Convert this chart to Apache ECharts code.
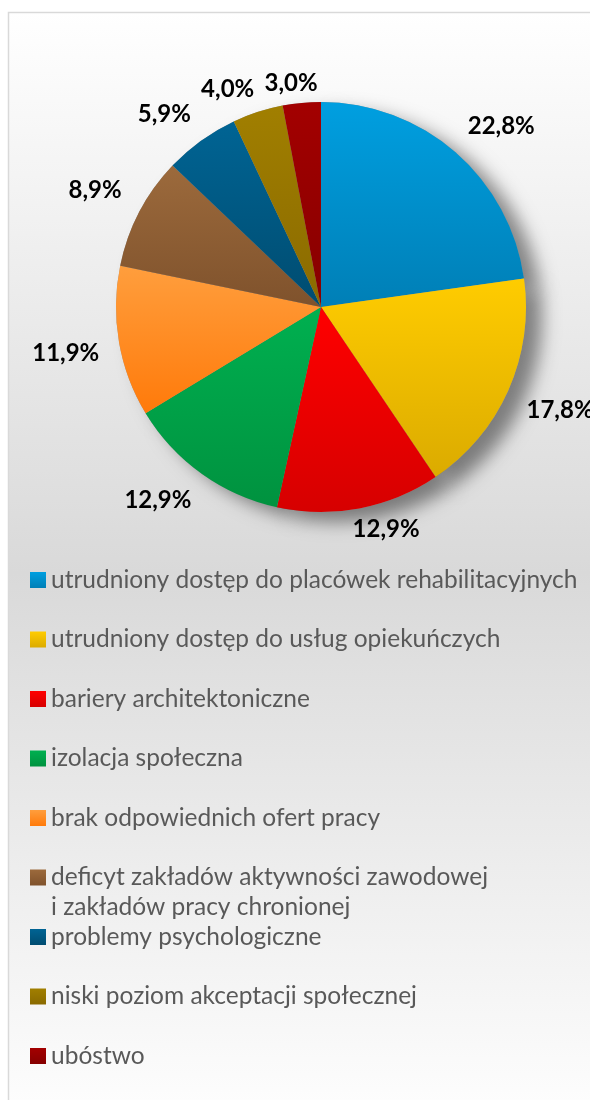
<!DOCTYPE html>
<html>
<head>
<meta charset="utf-8">
<script src="https://cdn.jsdelivr.net/npm/echarts@6/dist/echarts.min.js"></script>
<style>
  html, body { margin: 0; padding: 0; background: #ffffff; }
  #chart { width: 590px; height: 1100px; }
</style>
</head>
<body>
<div id="chart"></div>
<script>
// Barriers reported by respondents, share of answers (%)
const categories = [
  'utrudniony dostęp do placówek rehabilitacyjnych',
  'utrudniony dostęp do usług opiekuńczych',
  'bariery architektoniczne',
  'izolacja społeczna',
  'brak odpowiednich ofert pracy',
  'deficyt zakładów aktywności zawodowej\ni zakładów pracy chronionej',
  'problemy psychologiczne',
  'niski poziom akceptacji społecznej',
  'ubóstwo'
];
const shares = [22.8, 17.8, 12.9, 12.9, 11.9, 8.9, 5.9, 4.0, 3.0];

// Slice fills: lighter at the top, darker at the bottom
const paletteTop = ['#009fe0', '#ffcc00', '#ff0000', '#00b050', '#ff9e3d', '#9c6a3c', '#006494', '#a17f00', '#a30000'];
const paletteBottom = ['#007fb6', '#dbab00', '#d60000', '#00923f', '#ff7a0a', '#7f522c', '#004c70', '#8a6a00', '#860000'];

const FONT = 'Lato, "Open Sans", sans-serif';
const LEGEND_FONT_SIZE = 24.5;
const CX = 321, CY = 307, R = 205;

const total = shares.reduce((a, b) => a + b, 0);
const midAngles = [];
let acc = 0;
shares.forEach(v => { midAngles.push(2 * Math.PI * (acc + v / 2) / total); acc += v; });

function fill(i) {
  return new echarts.graphic.LinearGradient(0, 0, 0, 1, [
    { offset: 0, color: paletteTop[i] },
    { offset: 1, color: paletteBottom[i] }
  ]);
}

const pieData = categories.map((name, i) => ({
  name: name,
  value: shares[i],
  itemStyle: { color: fill(i) }
}));

// Labels sit just off the rim, with the box corner facing the slice
function clamp1(t) { return Math.max(-1, Math.min(1, t)); }
function placeLabel(params) {
  const a = midAngles[params.dataIndex];
  const w = params.labelRect.width, h = params.labelRect.height;
  const s = Math.sin(a), c = Math.cos(a);
  const gap = 20 - 13 * Math.pow(Math.abs(c), 8);
  const px = CX + (R + gap) * s, py = CY - (R + gap) * c;
  return {
    x: px + (w / 2) * clamp1(4 * s),
    y: py - (h / 2) * clamp1(4 * c),
    align: 'center',
    verticalAlign: 'middle'
  };
}

// The long legend entry wraps onto a second line below its marker
const wrapped = categories.map(n => n.split('\n'));
const wrapIndex = wrapped.findIndex(p => p.length > 1);

const chart = echarts.init(document.getElementById('chart'), null, { renderer: 'canvas' });
chart.setOption({
  backgroundColor: '#ffffff',
  animation: false,
  graphic: [
    {
      type: 'rect',
      z: -10,
      silent: true,
      shape: { x: 8.5, y: 12.5, width: 620, height: 1120 },
      style: {
        fill: new echarts.graphic.LinearGradient(0, 0, 0, 1, [
          { offset: 0, color: '#ffffff' },
          { offset: 0.5, color: '#d9d9d9' },
          { offset: 1, color: '#ffffff' }
        ]),
        stroke: '#d9d9d9',
        lineWidth: 1.5
      }
    },
    {
      type: 'text',
      silent: true,
      left: 51,
      top: 567 + wrapIndex * 59.5 + 30,
      style: {
        text: wrapped[wrapIndex].slice(1).join('\n'),
        fill: '#595959',
        font: LEGEND_FONT_SIZE + 'px ' + FONT,
        lineHeight: 26
      }
    }
  ],
  legend: {
    orient: 'vertical', left: 30, top: 567, padding: 0,
    itemWidth: 16, itemHeight: 16, itemGap: 33.5,
    icon: 'rect', selectedMode: false,
    textStyle: { color: '#595959', fontSize: LEGEND_FONT_SIZE, fontFamily: FONT, lineHeight: 26 },
    formatter: name => name.split('\n')[0],
    data: categories
  },
  series: [
    {
      type: 'pie',
      z: 3,
      left: 0, top: 0, width: 1000, height: 2000,
      center: [CX, CY],
      radius: R,
      startAngle: 90,
      clockwise: true,
      avoidLabelOverlap: false,
      data: pieData,
      label: {
        show: true,
        position: 'outside',
        color: '#000000',
        fontFamily: FONT,
        fontWeight: 'bold',
        fontSize: 24,
        formatter: p => p.value.toFixed(1).replace('.', ',') + '%'
      },
      labelLine: { show: false },
      labelLayout: placeLabel,
      emphasis: { disabled: true }
    },
    {
      // soft drop shadow beneath the slices
      type: 'pie',
      z: 2,
      silent: true,
      left: 0, top: 0, width: 1000, height: 2000,
      center: [CX, CY],
      radius: R,
      startAngle: 90,
      data: shares.map((v, i) => ({ name: categories[i], value: v })),
      label: { show: false },
      labelLine: { show: false },
      itemStyle: {
        color: '#9a9a9a',
        shadowBlur: 18,
        shadowColor: 'rgba(0,0,0,0.45)',
        shadowOffsetX: 16,
        shadowOffsetY: 10
      },
      emphasis: { disabled: true }
    }
  ]
});
</script>
</body>
</html>
